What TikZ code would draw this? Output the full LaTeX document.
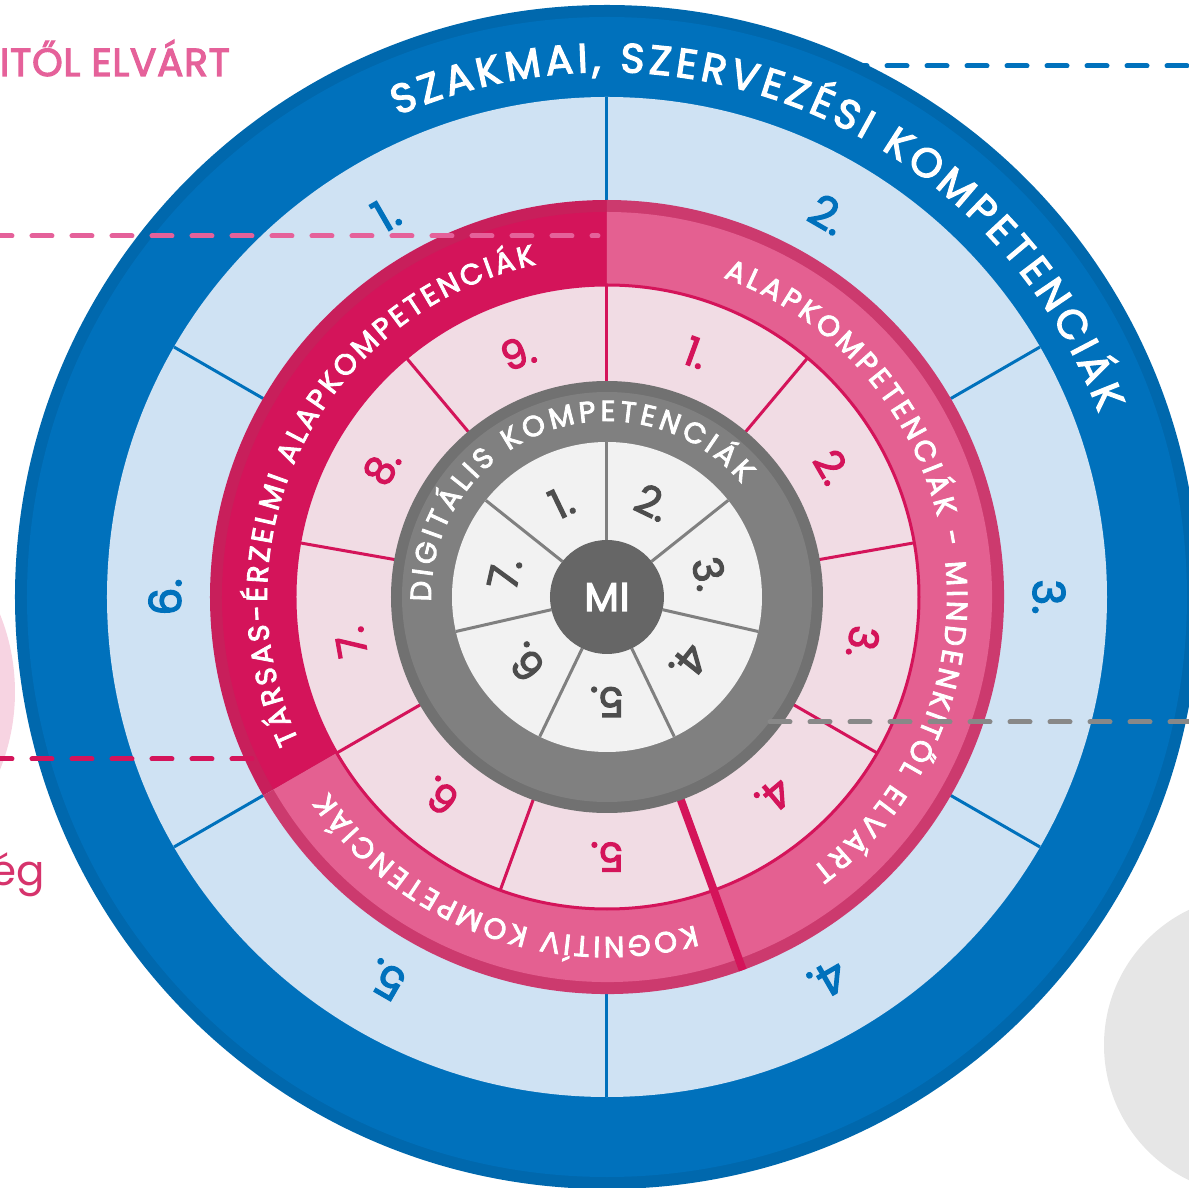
\documentclass[tikz,border=0pt]{standalone}
\usepackage{fontspec}
\setmainfont{Poppins}
\newfontfamily\medf{Poppins}[FakeBold=3]
\newfontfamily\medsp{Poppins}[FakeBold=3, LetterSpace=2]
\usetikzlibrary{decorations.text}
\definecolor{dblue}{HTML}{0071BC}
\definecolor{dbluerim}{HTML}{0068AD}
\definecolor{lblue}{HTML}{CFE2F3}
\definecolor{crim}{HTML}{D4145A}
\definecolor{crimrim}{HTML}{C81F5B}
\definecolor{pinkb}{HTML}{E46091}
\definecolor{pinkrim}{HTML}{CC3A6E}
\definecolor{lpink}{HTML}{F1DCE4}
\definecolor{gring}{HTML}{808080}
\definecolor{gringrim}{HTML}{717171}
\definecolor{lgray}{HTML}{F2F2F2}
\definecolor{migray}{HTML}{666666}
\definecolor{gnum}{HTML}{4D4D4D}
\definecolor{bgcircle}{HTML}{E6E6E6}
\definecolor{pastel}{HTML}{F7D4E2}
\definecolor{dashpink}{HTML}{E5619A}
\definecolor{dashgray}{HTML}{888888}
\definecolor{egpink}{HTML}{D6336C}
\begin{document}
\begin{tikzpicture}[x=1pt,y=1pt,
  dashline/.style={line width=5, line cap=round, dash pattern=on 20 off 20},
  bluediv/.style={draw=dblue, line width=3},
  pinkdiv/.style={draw=crim, line width=3},
  graydiv/.style={draw=gring, line width=3},
  bluenum/.style={text=dblue, font=\medf\fontsize{44}{44}\selectfont, inner sep=0},
  pinknum/.style={text=crim, font=\medf\fontsize{40}{40}\selectfont, inner sep=0},
  graynum/.style={text=gnum, font=\medf\fontsize{41}{41}\selectfont, inner sep=0},
  arctext/.style={decorate, decoration={text along path, text color=white, text align=fit to path}}
]
\useasboundingbox (-607,-591) rectangle (582,597);
\clip (-607,-591) rectangle (582,597);

% background shapes
\fill[bgcircle] (647,-448) circle (150);
\fill[pastel] (-800,-95) circle (208);

% blue leader line (behind the wheel)
\coordinate (bdA) at (200,531);
\coordinate (bdB) at (590,531);
\draw[dashline, dblue] (bdA) -- (bdB);

% outer blue ring
\fill[dbluerim] (0,0) circle (592);
\fill[dblue] (0,0) circle (580);
\fill[lblue] (0,0) circle (500);
\foreach \a in {90,30,-30,-90,-150,150} \draw[bluediv] (\a:397) -- (\a:500);

% pink band sectors
\fill[crimrim] (0,0) -- (90:397) arc[start angle=90, end angle=210, radius=397] -- cycle;
\fill[crim] (0,0) -- (90:385) arc[start angle=90, end angle=210, radius=385] -- cycle;
\fill[pinkrim] (0,0) -- (210:397) arc[start angle=210, end angle=450, radius=397] -- cycle;
\fill[pinkb] (0,0) -- (210:385) arc[start angle=210, end angle=450, radius=385] -- cycle;
\filldraw[fill=lpink, draw=crim, line width=3] (0,0) circle (312);
\foreach \a in {90,50,10,-30,-110,-150,170,130} \draw[pinkdiv] (\a:205) -- (\a:312);
\draw[crim, line width=8] (-70:205) -- (-70:397);

% gray ring
\fill[gringrim] (0,0) circle (216);
\fill[gring] (0,0) circle (205);
\fill[lgray] (0,0) circle (155);
\foreach \i in {0,...,6} \draw[graydiv] ({90-\i*360/7}:57) -- ({90-\i*360/7}:155);
\node[circle, fill=migray, minimum size=114, inner sep=0, text=white,
      font=\medsp\fontsize{40}{40}\selectfont] (mi) at (0,0) {MI};

% arc texts
\path[arctext, decoration={text={|\medf\fontsize{41}{41}\selectfont|SZAKMAI, SZERVEZÉSI KOMPETENCIÁK}}]
  (113.5:525) arc[start angle=113.5, end angle=20.5, radius=525];
\path[arctext, decoration={text={|\medf\fontsize{29}{29}\selectfont|TÁRSAS-ÉRZELMI ALAPKOMPETENCIÁK}}]
  (205:340) arc[start angle=205, end angle=102, radius=340];
\path[arctext, decoration={text={|\medf\fontsize{29}{29}\selectfont|ALAPKOMPETENCIÁK - MINDENKITŐL ELVÁRT}}]
  (70:340) arc[start angle=70, end angle=-53, radius=340];
\path[arctext, decoration={text={|\medf\fontsize{29}{29}\selectfont|KOGNITÍV KOMPETENCIÁK}}]
  (-75:340) arc[start angle=-75, end angle=-145, radius=340];
\path[arctext, decoration={text={|\medf\fontsize{29}{29}\selectfont|DIGITÁLIS KOMPETENCIÁK}}]
  (181.5:176) arc[start angle=181.5, end angle=40, radius=176];

% blue numbers
\foreach \k in {1,...,6} {
  \pgfmathsetmacro{\ang}{120-60*(\k-1)}
  \node[bluenum, rotate=\ang-90] (b\k) at (\ang:442) {\k.};
}
% pink numbers
\foreach \k in {1,...,9} {
  \pgfmathsetmacro{\ang}{70-40*(\k-1)}
  \node[pinknum, rotate=\ang-90] (p\k) at (\ang:260) {\k.};
}
% gray numbers
\foreach \k in {1,...,7} {
  \pgfmathsetmacro{\ang}{90+360/14-360/7*(\k-1)}
  \node[graynum, rotate=\ang-90] (g\k) at (\ang:105) {\k.};
}

% leader lines on top
\coordinate (pdA) at (-615,361);
\coordinate (pdB) at (-9,361);
\draw[dashline, dashpink] (pdA) -- (pdB);
\coordinate (cdA) at (-615,-162);
\coordinate (cdB) at (-352,-162);
\draw[dashline, crim] (cdA) -- (cdB);
\coordinate (gdA) at (163,-125);
\coordinate (gdB) at (590,-125);
\draw[dashline, dashgray] (gdA) -- (gdB);

% cut texts at left edge
\node[anchor=base east, text=dashpink, inner sep=0, font=\medsp\fontsize{39}{39}\selectfont] (elv) at (-377,521) {ITŐL ELVÁRT};
\node[anchor=base east, text=egpink, inner sep=0, font=\fontsize{42}{42}\selectfont] (eg) at (-562,-288) {ég};
\end{tikzpicture}
\end{document}
